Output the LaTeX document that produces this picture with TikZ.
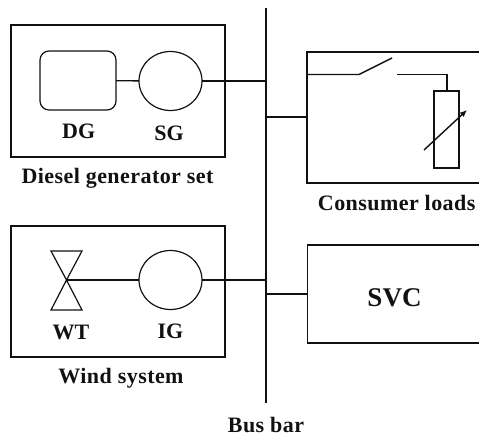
\documentclass[tikz,border=0pt]{standalone}
\usepackage{fontspec}
\setmainfont{Liberation Serif}
\usetikzlibrary{arrows.meta,calc,shapes.geometric}
\definecolor{ink}{HTML}{111111}
\tikzset{
  frame/.style={draw=ink,line width=1.2pt,inner sep=0pt,outer sep=0pt},
  machine/.style={frame,ellipse,minimum width=63pt,minimum height=59pt},
  engine/.style={frame,rounded corners=9pt,minimum width=76pt,minimum height=59pt},
  tag/.style={font=\bfseries\fontsize{22}{24}\selectfont,text=ink,inner sep=0pt},
  caption/.style={font=\bfseries\fontsize{22}{24}\selectfont\addfontfeature{LetterSpace=2},text=ink,inner sep=0pt},
  wire/.style={draw=ink,line width=1.4pt}
}
\begin{document}
\begin{tikzpicture}[x=1pt,y=-1pt]
\useasboundingbox (0,0) rectangle (479,437);

% Enclosures
\node[frame,minimum width=214pt,minimum height=132pt] (dgset) at (118,91) {};
\node[frame,minimum width=214pt,minimum height=131pt] (wind) at (118,291.5) {};
\node[font=\bfseries\fontsize{27}{29}\selectfont,text=ink,inner sep=0pt] (svclabel) at (394.5,298) {SVC};

% Load and SVC boxes run off the right edge
\coordinate (loadNE) at (479,52);
\coordinate (loadNW) at (307,52);
\coordinate (loadSW) at (307,183);
\coordinate (loadSE) at (479,183);
\draw[frame] (loadNE) -- (loadNW) -- (loadSW) -- (loadSE);
\coordinate (svcNE) at (479,245);
\coordinate (svcNW) at (307.5,245);
\coordinate (svcSW) at (307.5,343);
\coordinate (svcSE) at (479,343);
\draw[frame] (svcNE) -- (svcNW) -- (svcSW) -- (svcSE);

% Machines
\node[engine] (dg) at (78,80.5) {};
\node[machine] (sg) at (170.5,81) {};
\node[machine] (ig) at (170.5,280) {};
\coordinate (wt) at (66.5,280);
\draw[frame] (wt) -- (51,251) -- (82,251) -- (wt) -- (82,310) -- (51,310) -- cycle;

% Bus bar
\coordinate (bustop) at (266,8);
\coordinate (busend) at (266,403);
\draw[wire] (bustop) -- (busend);
\coordinate (busa) at (266,81);
\coordinate (busb) at (266,117);
\coordinate (busc) at (266,280);
\coordinate (busd) at (266,294);
\coordinate (loadin) at (307,117);
\coordinate (svcin) at (307.5,294);

\draw[wire] (dg) -- (sg);
\draw[wire] (sg) -- (busa);
\draw[wire] (wt) -- (ig);
\draw[wire] (ig) -- (busc);
\draw[wire] (busb) -- (loadin);
\draw[wire] (busd) -- (svcin);

% Switch and variable resistor
\node[frame,minimum width=25pt,minimum height=77pt] (res) at (446.5,129.5) {};
\coordinate (swa) at (307,74.5);
\coordinate (swb) at (359,74.5);
\coordinate (swc) at (392,58);
\coordinate (swd) at (397,74.5);
\coordinate (swe) at (447,74.5);
\coordinate (arra) at (424,150);
\coordinate (arrb) at (467,110);
\draw[wire] (swa) -- (swb) -- (swc);
\draw[wire] (swd) -- (swe) -- (swe |- res.north);
\draw[wire,-{Latex[length=7pt,width=6pt]}] (arra) -- (arrb);

% Labels
\node[tag] (dglabel) at (78.7,131.5) {DG};
\node[tag] (sglabel) at (169,133.5) {SG};
\node[tag] (wtlabel) at (71,332) {WT};
\node[tag] (iglabel) at (170.5,331) {IG};
\node[caption] (dgcap) at (117.5,178) {Diesel generator set};
\node[caption] (windcap) at (121,378) {Wind system};
\node[caption] (loadcap) at (396.7,203) {Consumer loads};
\node[caption] (buscap) at (266,425) {Bus bar};

\end{tikzpicture}
\end{document}
